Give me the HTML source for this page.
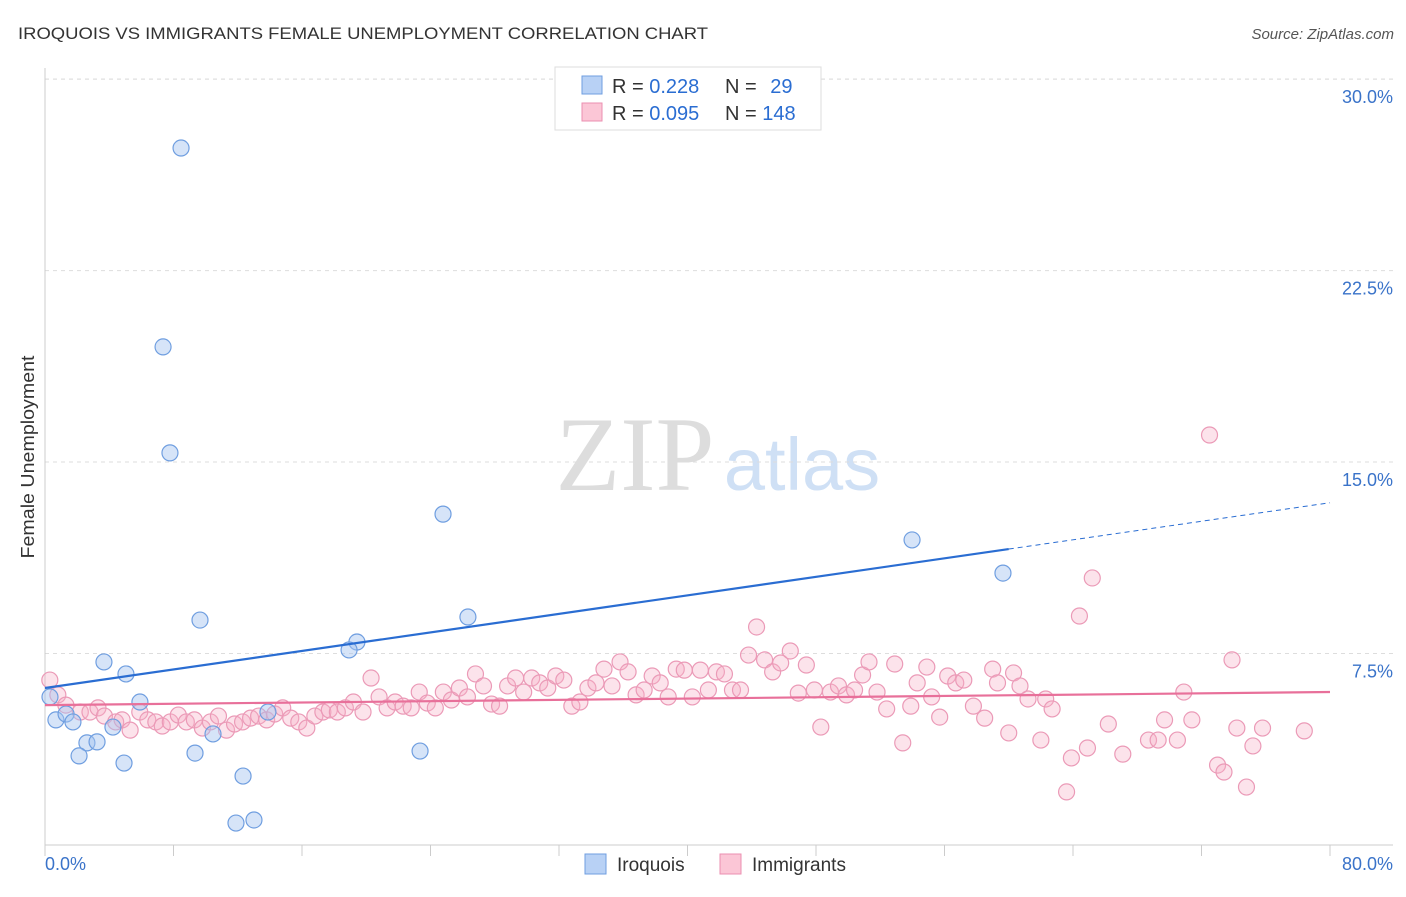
<!DOCTYPE html>
<html><head><meta charset="utf-8"><style>
body{margin:0;background:#fff;font-family:"Liberation Sans",sans-serif;}
svg text{font-family:"Liberation Sans",sans-serif;}
</style></head><body>
<svg id="c" width="1406" height="892" xmlns="http://www.w3.org/2000/svg">
<text x="18" y="39" font-size="17" fill="#333" textLength="690" lengthAdjust="spacingAndGlyphs">IROQUOIS VS IMMIGRANTS FEMALE UNEMPLOYMENT CORRELATION CHART</text>
<text x="1394" y="39" font-size="15" fill="#555" text-anchor="end" font-style="italic">Source: ZipAtlas.com</text>
<g>
<text x="635" y="490" font-size="106" fill="#ddd" text-anchor="middle" font-family="Liberation Serif" style="font-family:'Liberation Serif',serif">ZIP</text>
<text x="802" y="490" font-size="74" fill="#cfe0f5" text-anchor="middle">atlas</text>
</g>
<g id="grid"></g>
<g id="axes"></g>
<g id="pts"></g>
<g id="lines"></g>
<text transform="translate(34,457) rotate(-90)" font-size="18" fill="#333" text-anchor="middle" textLength="203" lengthAdjust="spacingAndGlyphs">Female Unemployment</text>
<g>
<rect x="555" y="67" width="266" height="63" fill="#fff" stroke="#ddd"/>
<rect x="582" y="76" width="20" height="18" fill="#b8d1f5" stroke="#6f9ee0"/>
<rect x="582" y="103" width="20" height="18" fill="#fbc6d6" stroke="#eb8fb0"/>
<text x="612" y="93" font-size="20" fill="#333">R = <tspan fill="#2a6dd2">0.228</tspan></text>
<text x="725" y="93" font-size="20" fill="#333">N = <tspan fill="#2a6dd2" dx="8">29</tspan></text>
<text x="612" y="120" font-size="20" fill="#333">R = <tspan fill="#2a6dd2">0.095</tspan></text>
<text x="725" y="120" font-size="20" fill="#333">N = <tspan fill="#2a6dd2">148</tspan></text>
</g>
<g>
<rect x="585" y="854" width="21" height="20" fill="#b8d1f5" stroke="#6f9ee0"/>
<text x="617" y="871" font-size="19" fill="#333">Iroquois</text>
<rect x="720" y="854" width="21" height="20" fill="#fbc6d6" stroke="#eb8fb0"/>
<text x="752" y="871" font-size="19" fill="#333">Immigrants</text>
</g>
</svg>
<script>
const yTicks=[7.5,15,22.5,30];
const yTickLabels=["7.5%","15.0%","22.5%","30.0%"];
const xTicks=[0,8,16,24,32,40,48,56,64,72,80];
const iroX=[8.47,7.35,7.78,24.78,53.98,59.64,26.33,9.65,19.42,18.93,3.67,5.04,5.91,0.31,0.68,1.31,1.74,4.23,10.46,13.88,2.61,3.24,2.12,9.34,23.35,4.92,12.33,11.89,13.01];
const iroY=[27.3,19.51,15.36,12.96,11.95,10.65,8.93,8.81,7.95,7.64,7.17,6.70,5.60,5.80,4.90,5.13,4.82,4.62,4.35,5.21,4.00,4.04,3.49,3.60,3.68,3.21,2.70,0.86,0.98];
const immX=[0.3,0.8,1.3,2.2,2.8,3.3,3.7,4.4,4.8,5.3,5.9,6.4,6.9,7.3,7.8,8.3,8.8,9.3,9.8,10.3,10.8,11.3,11.8,12.3,12.8,13.3,13.8,14.3,14.8,15.3,15.8,16.3,16.8,17.3,17.7,18.2,18.7,19.2,19.8,20.3,20.8,21.3,21.8,22.3,22.8,23.3,23.8,24.3,24.8,25.3,25.8,26.3,26.8,27.3,27.8,28.3,28.8,29.3,29.8,30.3,30.8,31.3,31.8,32.3,32.8,33.3,33.8,34.3,34.8,35.3,35.8,36.3,36.8,37.3,37.8,38.3,38.8,39.3,39.8,40.3,40.8,41.3,41.8,42.3,42.8,43.3,43.8,44.3,44.8,45.3,45.8,46.4,46.9,47.4,47.9,48.3,48.9,49.4,49.9,50.4,50.9,51.3,51.8,52.4,52.9,53.4,53.9,54.3,54.9,55.2,55.7,56.2,56.7,57.2,57.8,58.5,59.0,59.3,60.0,60.3,60.7,61.2,62.0,62.3,62.7,63.6,63.9,64.4,64.9,65.2,66.2,67.1,68.7,69.3,69.7,70.5,70.9,71.4,72.5,73.0,73.4,73.9,74.2,74.8,75.2,75.8,78.4];
const immY=[6.46,5.88,5.48,5.21,5.21,5.37,5.05,4.82,4.90,4.50,5.21,4.90,4.82,4.66,4.82,5.09,4.82,4.90,4.58,4.82,5.05,4.50,4.74,4.82,4.97,5.05,4.90,5.13,5.37,4.97,4.82,4.58,5.05,5.21,5.29,5.21,5.37,5.60,5.21,6.54,5.80,5.37,5.60,5.44,5.37,5.99,5.56,5.37,5.99,5.68,6.15,5.80,6.70,6.23,5.52,5.44,6.23,6.54,5.99,6.54,6.35,6.15,6.62,6.46,5.44,5.60,6.15,6.35,6.89,6.23,7.17,6.78,5.88,6.07,6.62,6.35,5.80,6.89,6.85,5.80,6.85,6.07,6.78,6.70,6.07,6.07,7.44,8.54,7.25,6.78,7.13,7.60,5.95,7.05,6.07,4.62,5.99,6.23,5.88,6.07,6.66,7.17,5.99,5.33,7.09,4.00,5.44,6.35,6.97,5.80,5.01,6.62,6.35,6.46,5.44,4.97,6.89,6.35,4.39,6.74,6.23,5.72,4.11,5.72,5.33,2.08,3.41,8.97,3.80,10.46,4.74,3.56,4.11,4.11,4.90,4.11,5.99,4.90,16.06,3.13,2.86,7.25,4.58,2.27,3.88,4.58,4.47];
const iroTrend=[6.15,0.0907];
const immTrend=[5.48,0.0064];
const X=v=>45+v/80*1285, Y=v=>845-v*25.53;
const NS="http://www.w3.org/2000/svg";
function mk(t,a,p){const e=document.createElementNS(NS,t);for(const k in a)e.setAttribute(k,a[k]);p.appendChild(e);return e;}
const grid=document.getElementById('grid'),axes=document.getElementById('axes'),pts=document.getElementById('pts'),lines=document.getElementById('lines');
mk('line',{x1:45,x2:1393,y1:Y(30),y2:Y(30),stroke:'#ddd','stroke-dasharray':'4,4'},grid);
yTicks.forEach((t,i)=>{
 const l=mk('line',{x1:45,x2:1393,y1:Y(t),y2:Y(t),stroke:'#ddd','stroke-dasharray':'4,4'},grid);
 
 
 const tx=mk('text',{x:1393,y:Y(t)+24,'font-size':18,fill:'#3a73c9','text-anchor':'end'},axes);
 tx.textContent=yTickLabels[i];
 
 
});
mk('line',{x1:45,x2:45,y1:68,y2:845,stroke:'#ccc'},axes);
mk('line',{x1:45,x2:1393,y1:845,y2:845,stroke:'#ccc'},axes);
xTicks.forEach(t=>{const l=mk('line',{x1:X(t),x2:X(t),y1:845,y2:856,stroke:'#ccc'},axes);
 
 });
let a=mk('text',{x:45,y:870,'font-size':18,fill:'#3a73c9'},axes);a.textContent='0.0%';

a=mk('text',{x:1393,y:870,'font-size':18,fill:'#3a73c9','text-anchor':'end'},axes);a.textContent='80.0%';

immX.forEach((x,i)=>{const c=mk('circle',{cx:X(x),cy:Y(immY[i]),r:8,fill:'rgba(247,175,199,0.35)',stroke:'#eb9ab7','stroke-width':1.2},pts);
 
 });
iroX.forEach((x,i)=>{const c=mk('circle',{cx:X(x),cy:Y(iroY[i]),r:8,fill:'rgba(165,195,240,0.45)',stroke:'#6f9ee0','stroke-width':1.2},pts);
 
 });
let l=mk('line',{x1:X(0),y1:Y(iroTrend[0]),x2:X(60),y2:Y(iroTrend[0]+iroTrend[1]*60),stroke:'#2a6dd2','stroke-width':2.2},lines);


l=mk('line',{x1:X(60),y1:Y(iroTrend[0]+iroTrend[1]*60),x2:X(80),y2:Y(iroTrend[0]+iroTrend[1]*80),stroke:'#2a6dd2','stroke-width':1,'stroke-dasharray':'5,4'},lines);


l=mk('line',{x1:X(0),y1:Y(immTrend[0]),x2:X(80),y2:Y(immTrend[0]+immTrend[1]*80),stroke:'#e8709a','stroke-width':2.2},lines);


</script>
</body></html>
